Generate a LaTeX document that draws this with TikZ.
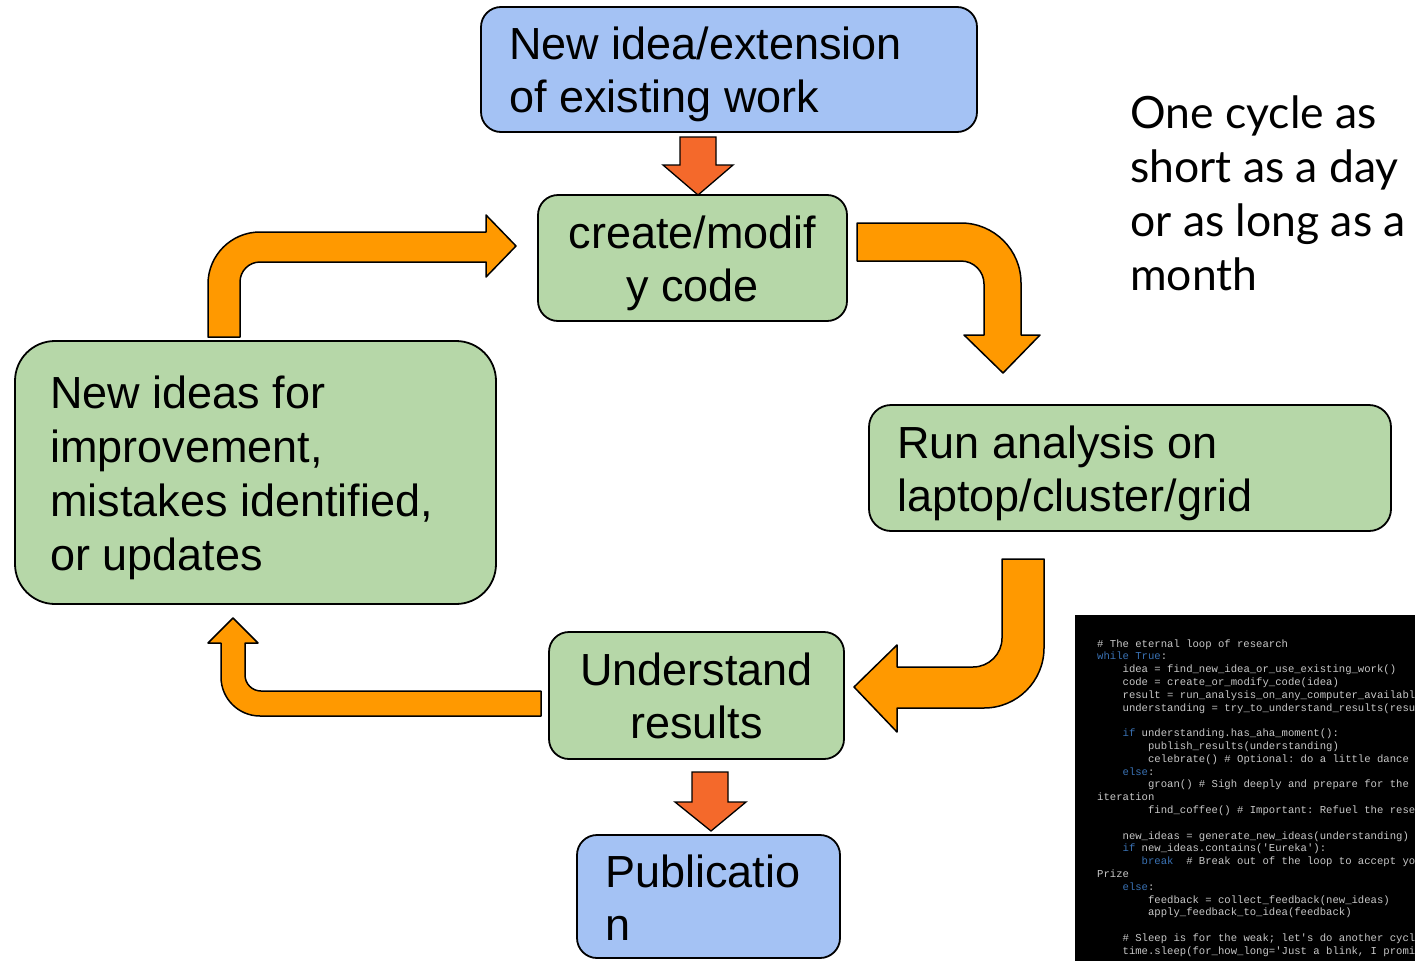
\documentclass[tikz,border=0pt]{standalone}
\usepackage{fontspec}
\setmainfont{Liberation Sans}
\setmonofont{Liberation Mono}
\newfontfamily\latofont{Lato}

\definecolor{ideablue}{HTML}{A4C2F4}
\definecolor{stepgreen}{HTML}{B6D7A8}
\definecolor{looporange}{HTML}{FF9900}
\definecolor{flowred}{HTML}{F4692B}
\definecolor{codetext}{HTML}{C8C8C8}
\definecolor{codekw}{HTML}{3A72B4}

% four-character indent for the code listing
\newcommand\ind{\hphantom{0000}}

\begin{document}
\begin{tikzpicture}[x=1pt,y=-1pt,
  stepbox/.style={draw=black, line width=1.8pt, rounded corners=20pt, inner sep=0pt},
  bigtext/.style={font=\fontsize{45}{54}\selectfont, inner sep=0pt},
  notetext/.style={font=\latofont\fontsize{44.5}{54}\selectfont, inner sep=0pt, anchor=base west},
  codeline/.style={font=\ttfamily\fontsize{10.6}{12.8}\selectfont, text=codetext, inner sep=0pt, anchor=base west},
  bentarrow/.style={draw=black, line width=1.5pt, fill=looporange, line join=round},
  downarrow/.style={draw=black, line width=1.3pt, fill=flowred, line join=miter},
]
\useasboundingbox (0,0) rectangle (1415,961);

% ---- boxes ----
\node[stepbox, fill=ideablue, minimum width=496, minimum height=125] (idea) at (729,69.5) {};
\node[stepbox, fill=stepgreen, minimum width=309, minimum height=126] (code) at (692.5,258) {};
\node[stepbox, fill=stepgreen, rounded corners=40pt, minimum width=481, minimum height=263] (improve) at (255.5,472.5) {};
\node[stepbox, fill=stepgreen, rounded corners=22pt, minimum width=522, minimum height=126] (run) at (1130,468) {};
\node[stepbox, fill=stepgreen, minimum width=295, minimum height=127] (understand) at (696.5,695.5) {};
\node[stepbox, fill=ideablue, minimum width=263, minimum height=123] (pub) at (708.5,896.5) {};

% ---- box labels ----
\node[bigtext, anchor=base west] (ideaA) at (509,59) {New idea/extension};
\node[bigtext, anchor=base west] (ideaB) at (509,112) {of existing work};

\node[bigtext, anchor=base] (codeA) at (692.5,248) {create/modif};
\node[bigtext, anchor=base] (codeB) at (692.5,301) {y code};

\node[bigtext, anchor=base west] (impA) at (50,408) {New ideas for};
\node[bigtext, anchor=base west] (impB) at (50,462) {improvement,};
\node[bigtext, anchor=base west] (impC) at (50,516) {mistakes identified,};
\node[bigtext, anchor=base west] (impD) at (50,570) {or updates};

\node[bigtext, anchor=base west] (runA) at (897,458) {Run analysis on};
\node[bigtext, anchor=base west] (runB) at (897,511) {laptop/cluster/grid};

\node[bigtext, anchor=base] (undA) at (696.5,685) {Understand};
\node[bigtext, anchor=base] (undB) at (696.5,738) {results};

\node[bigtext, anchor=base west] (pubA) at (605,887) {Publicatio};
\node[bigtext, anchor=base west] (pubB) at (605,940) {n};

% ---- side note ----
\node[notetext] (noteA) at (1130,128) {One cycle as};
\node[notetext] (noteB) at (1130,182) {short as a day};
\node[notetext] (noteC) at (1130,236) {or as long as a};
\node[notetext] (noteD) at (1130,290) {month};

% ---- straight flow arrows ----
\draw[downarrow] (680,137) -- (716,137) -- (716,165) -- (733,165) -- (698,195)
  -- (663,165) -- (680,165) -- cycle;
\draw[downarrow] (692,772) -- (728,772) -- (728,802) -- (746,802) -- (711,831)
  -- (675,802) -- (692,802) -- cycle;

% ---- bent loop arrows ----
% improvement -> code
\draw[bentarrow] (208,337) -- (208,284) arc[start angle=180,end angle=270,radius=52]
  -- (486,232) -- (486,215) -- (516,246) -- (486,277) -- (486,262) -- (260,262)
  arc[start angle=270,end angle=180,radius=20] -- (240,337) -- cycle;
% code -> run
\draw[bentarrow] (857,223) -- (961,223) arc[start angle=270,end angle=360,radius=60]
  -- (1021,335) -- (1040,335) -- (1003,373) -- (964,335) -- (984,335) -- (984,284)
  arc[start angle=0,end angle=-90,radius=23] -- (857,261) -- cycle;
% run -> understand
\draw[bentarrow] (1002,559) -- (1044,559) -- (1044,648) arc[start angle=0,end angle=90,radius=60]
  -- (897,708) -- (897,732) -- (854,687) -- (897,645) -- (897,667) -- (973,667)
  arc[start angle=90,end angle=0,radius=29] -- cycle;
% understand -> improvement
\draw[bentarrow] (541,691) -- (541,716) -- (260,716) arc[start angle=90,end angle=180,radius=39]
  -- (221,643) -- (208,643) -- (233,618) -- (258,643) -- (245,643) -- (245,675)
  arc[start angle=180,end angle=90,radius=16] -- cycle;

% ---- code listing (runs off the right edge of the panel) ----
\node[fill=black, inner sep=0pt, minimum width=340, minimum height=346, anchor=north west] (listing) at (1075,615) {};
\begin{scope}
\clip (1075,615) rectangle (1415,961);
\foreach \n/\t in {
  1/{\# The eternal loop of research},
  2/{{\color{codekw}while True}:},
  3/{\ind idea = find\_new\_idea\_or\_use\_existing\_work()},
  4/{\ind code = create\_or\_modify\_code(idea)},
  5/{\ind result = run\_analysis\_on\_any\_computer\_available(code)},
  6/{\ind understanding = try\_to\_understand\_results(result)},
  8/{\ind{\color{codekw}if} understanding.has\_aha\_moment():},
  9/{\ind\ind publish\_results(understanding)},
  10/{\ind\ind celebrate() \# Optional: do a little dance},
  11/{\ind{\color{codekw}else}:},
  12/{\ind\ind groan() \# Sigh deeply and prepare for the next},
  13/{iteration},
  14/{\ind\ind find\_coffee() \# Important: Refuel the researcher},
  16/{\ind new\_ideas = generate\_new\_ideas(understanding)},
  17/{\ind{\color{codekw}if} new\_ideas.contains('Eureka'):},
  18/{\ind\hphantom{000}{\color{codekw}break}~~\# Break out of the loop to accept your Nobel},
  19/{Prize},
  20/{\ind{\color{codekw}else}:},
  21/{\ind\ind feedback = collect\_feedback(new\_ideas)},
  22/{\ind\ind apply\_feedback\_to\_idea(feedback)},
  24/{\ind\# Sleep is for the weak; let's do another cycle},
  25/{\ind time.sleep(for\_how\_long='Just a blink, I promise')}%
}{
  \node[codeline] (line\n) at (1097,{647+12.8*(\n-1)}) {\t};
}
\end{scope}
\end{tikzpicture}
\end{document}
